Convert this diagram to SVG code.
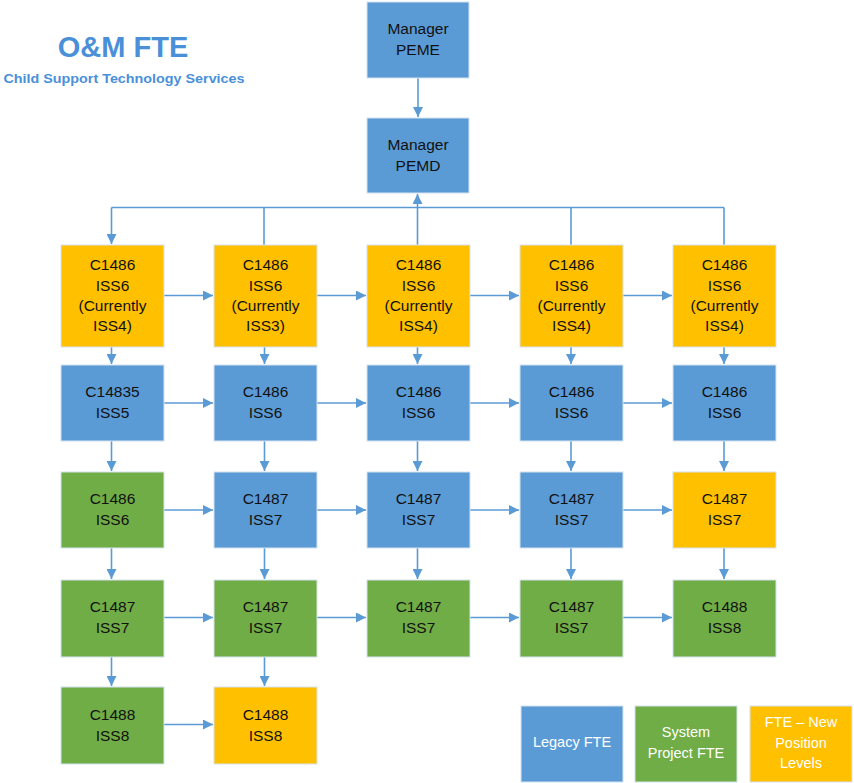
<svg xmlns="http://www.w3.org/2000/svg" width="854" height="783" viewBox="0 0 854 783">
  <style>
    .box { stroke: #d6e2ef; stroke-width: 1; }
    .blue { fill: #5b9bd5; }
    .green { fill: #70ad47; }
    .orange { fill: #ffc000; }
    .t { font-family: "Liberation Sans", Arial, sans-serif; font-size: 15.5px; fill: #111; text-anchor: middle; }
    .lg { font-family: "Liberation Sans", Arial, sans-serif; font-size: 14.5px; fill: #ffffff; text-anchor: middle; }
    .wire { stroke: #5b9bd5; stroke-width: 1.6; fill: none; }
    .wire.a { marker-end: url(#arrow); }
    .title { font-family: "Liberation Sans", Arial, sans-serif; font-weight: bold; fill: #4a90d9; text-anchor: middle; }
  </style>
  <defs>
    <marker id="arrow" viewBox="0 0 10 10" refX="10" refY="5" markerWidth="10" markerHeight="10" markerUnits="userSpaceOnUse" orient="auto">
      <path d="M0,0 L10,5 L0,10 z" fill="#5b9bd5"/>
    </marker>
  </defs>

  <rect width="854" height="783" fill="#ffffff"/>

  <!-- heading -->
  <g id="heading">
    <text class="title" x="123" y="57" font-size="29">O&amp;M FTE</text>
    <text class="title" x="124" y="83" font-size="13.5" textLength="241" lengthAdjust="spacingAndGlyphs">Child Support Technology Services</text>
  </g>

  <!-- connectors -->
  <g id="connectors">
    <!-- managers -->
    <line class="wire a" x1="418" y1="78" x2="418" y2="117"/>
    <line class="wire a" x1="417.5" y1="245" x2="417.5" y2="194"/>
    <!-- distribution bus -->
    <polyline class="wire" points="111.5,207.5 724,207.5"/>
    <line class="wire a" x1="111.5" y1="207.5" x2="111.5" y2="244"/>
    <line class="wire" x1="264" y1="207.5" x2="264" y2="245"/>
    <line class="wire" x1="571" y1="207.5" x2="571" y2="245"/>
    <line class="wire" x1="724" y1="207.5" x2="724" y2="245"/>

    <!-- row 1 horizontal -->
    <line class="wire a" x1="164" y1="295.5" x2="213" y2="295.5"/>
    <line class="wire a" x1="317" y1="295.5" x2="366" y2="295.5"/>
    <line class="wire a" x1="470" y1="295.5" x2="519" y2="295.5"/>
    <line class="wire a" x1="623" y1="295.5" x2="672" y2="295.5"/>
    <!-- row 2 horizontal -->
    <line class="wire a" x1="164" y1="403" x2="213" y2="403"/>
    <line class="wire a" x1="317" y1="403" x2="366" y2="403"/>
    <line class="wire a" x1="470" y1="403" x2="519" y2="403"/>
    <line class="wire a" x1="623" y1="403" x2="672" y2="403"/>
    <!-- row 3 horizontal -->
    <line class="wire a" x1="164" y1="510" x2="213" y2="510"/>
    <line class="wire a" x1="317" y1="510" x2="366" y2="510"/>
    <line class="wire a" x1="470" y1="510" x2="519" y2="510"/>
    <line class="wire a" x1="623" y1="510" x2="672" y2="510"/>
    <!-- row 4 horizontal -->
    <line class="wire a" x1="164" y1="617.5" x2="213" y2="617.5"/>
    <line class="wire a" x1="317" y1="617.5" x2="366" y2="617.5"/>
    <line class="wire a" x1="470" y1="617.5" x2="519" y2="617.5"/>
    <line class="wire a" x1="623" y1="617.5" x2="672" y2="617.5"/>
    <!-- row 5 horizontal -->
    <line class="wire a" x1="164" y1="724.5" x2="213" y2="724.5"/>

    <!-- verticals row1 -> row2 -->
    <line class="wire a" x1="111.5" y1="347" x2="111.5" y2="364"/>
    <line class="wire a" x1="264.5" y1="347" x2="264.5" y2="364"/>
    <line class="wire a" x1="417.5" y1="347" x2="417.5" y2="364"/>
    <line class="wire a" x1="571" y1="347" x2="571" y2="364"/>
    <line class="wire a" x1="724" y1="347" x2="724" y2="364"/>
    <!-- row2 -> row3 -->
    <line class="wire a" x1="111.5" y1="441" x2="111.5" y2="471"/>
    <line class="wire a" x1="264.5" y1="441" x2="264.5" y2="471"/>
    <line class="wire a" x1="417.5" y1="441" x2="417.5" y2="471"/>
    <line class="wire a" x1="571" y1="441" x2="571" y2="471"/>
    <line class="wire a" x1="724" y1="441" x2="724" y2="471"/>
    <!-- row3 -> row4 -->
    <line class="wire a" x1="111.5" y1="548" x2="111.5" y2="579"/>
    <line class="wire a" x1="264.5" y1="548" x2="264.5" y2="579"/>
    <line class="wire a" x1="417.5" y1="548" x2="417.5" y2="579"/>
    <line class="wire a" x1="571" y1="548" x2="571" y2="579"/>
    <line class="wire a" x1="724" y1="548" x2="724" y2="579"/>
    <!-- row4 -> row5 -->
    <line class="wire a" x1="111.5" y1="657" x2="111.5" y2="686"/>
    <line class="wire a" x1="264.5" y1="657" x2="264.5" y2="686"/>
  </g>

  <!-- managers -->
  <g id="mgr-peme">
    <rect class="box blue" x="367" y="2" width="102" height="76"/>
    <text class="t" x="418" y="34">Manager</text>
    <text class="t" x="418" y="55">PEME</text>
  </g>
  <g id="mgr-pemd">
    <rect class="box blue" x="367" y="118" width="102" height="75"/>
    <text class="t" x="418" y="150">Manager</text>
    <text class="t" x="418" y="171">PEMD</text>
  </g>

  <!-- row 1 -->
  <g id="r1c1">
    <rect class="box orange" x="61" y="245" width="103" height="102"/>
    <text class="t" x="112.5" y="270">C1486</text>
    <text class="t" x="112.5" y="290.5">ISS6</text>
    <text class="t" x="112.5" y="311">(Currently</text>
    <text class="t" x="112.5" y="331">ISS4)</text>
  </g>
  <g id="r1c2">
    <rect class="box orange" x="214" y="245" width="103" height="102"/>
    <text class="t" x="265.5" y="270">C1486</text>
    <text class="t" x="265.5" y="290.5">ISS6</text>
    <text class="t" x="265.5" y="311">(Currently</text>
    <text class="t" x="265.5" y="331">ISS3)</text>
  </g>
  <g id="r1c3">
    <rect class="box orange" x="367" y="245" width="103" height="102"/>
    <text class="t" x="418.5" y="270">C1486</text>
    <text class="t" x="418.5" y="290.5">ISS6</text>
    <text class="t" x="418.5" y="311">(Currently</text>
    <text class="t" x="418.5" y="331">ISS4)</text>
  </g>
  <g id="r1c4">
    <rect class="box orange" x="520" y="245" width="103" height="102"/>
    <text class="t" x="571.5" y="270">C1486</text>
    <text class="t" x="571.5" y="290.5">ISS6</text>
    <text class="t" x="571.5" y="311">(Currently</text>
    <text class="t" x="571.5" y="331">ISS4)</text>
  </g>
  <g id="r1c5">
    <rect class="box orange" x="673" y="245" width="103" height="102"/>
    <text class="t" x="724.5" y="270">C1486</text>
    <text class="t" x="724.5" y="290.5">ISS6</text>
    <text class="t" x="724.5" y="311">(Currently</text>
    <text class="t" x="724.5" y="331">ISS4)</text>
  </g>

  <!-- row 2 -->
  <g id="r2c1">
    <rect class="box blue" x="61" y="365" width="103" height="76"/>
    <text class="t" x="112.5" y="397">C14835</text>
    <text class="t" x="112.5" y="418">ISS5</text>
  </g>
  <g id="r2c2">
    <rect class="box blue" x="214" y="365" width="103" height="76"/>
    <text class="t" x="265.5" y="397">C1486</text>
    <text class="t" x="265.5" y="418">ISS6</text>
  </g>
  <g id="r2c3">
    <rect class="box blue" x="367" y="365" width="103" height="76"/>
    <text class="t" x="418.5" y="397">C1486</text>
    <text class="t" x="418.5" y="418">ISS6</text>
  </g>
  <g id="r2c4">
    <rect class="box blue" x="520" y="365" width="103" height="76"/>
    <text class="t" x="571.5" y="397">C1486</text>
    <text class="t" x="571.5" y="418">ISS6</text>
  </g>
  <g id="r2c5">
    <rect class="box blue" x="673" y="365" width="103" height="76"/>
    <text class="t" x="724.5" y="397">C1486</text>
    <text class="t" x="724.5" y="418">ISS6</text>
  </g>

  <!-- row 3 -->
  <g id="r3c1">
    <rect class="box green" x="61" y="472" width="103" height="76"/>
    <text class="t" x="112.5" y="504">C1486</text>
    <text class="t" x="112.5" y="525">ISS6</text>
  </g>
  <g id="r3c2">
    <rect class="box blue" x="214" y="472" width="103" height="76"/>
    <text class="t" x="265.5" y="504">C1487</text>
    <text class="t" x="265.5" y="525">ISS7</text>
  </g>
  <g id="r3c3">
    <rect class="box blue" x="367" y="472" width="103" height="76"/>
    <text class="t" x="418.5" y="504">C1487</text>
    <text class="t" x="418.5" y="525">ISS7</text>
  </g>
  <g id="r3c4">
    <rect class="box blue" x="520" y="472" width="103" height="76"/>
    <text class="t" x="571.5" y="504">C1487</text>
    <text class="t" x="571.5" y="525">ISS7</text>
  </g>
  <g id="r3c5">
    <rect class="box orange" x="673" y="472" width="103" height="76"/>
    <text class="t" x="724.5" y="504">C1487</text>
    <text class="t" x="724.5" y="525">ISS7</text>
  </g>

  <!-- row 4 -->
  <g id="r4c1">
    <rect class="box green" x="61" y="580" width="103" height="77"/>
    <text class="t" x="112.5" y="612">C1487</text>
    <text class="t" x="112.5" y="633">ISS7</text>
  </g>
  <g id="r4c2">
    <rect class="box green" x="214" y="580" width="103" height="77"/>
    <text class="t" x="265.5" y="612">C1487</text>
    <text class="t" x="265.5" y="633">ISS7</text>
  </g>
  <g id="r4c3">
    <rect class="box green" x="367" y="580" width="103" height="77"/>
    <text class="t" x="418.5" y="612">C1487</text>
    <text class="t" x="418.5" y="633">ISS7</text>
  </g>
  <g id="r4c4">
    <rect class="box green" x="520" y="580" width="103" height="77"/>
    <text class="t" x="571.5" y="612">C1487</text>
    <text class="t" x="571.5" y="633">ISS7</text>
  </g>
  <g id="r4c5">
    <rect class="box green" x="673" y="580" width="103" height="77"/>
    <text class="t" x="724.5" y="612">C1488</text>
    <text class="t" x="724.5" y="633">ISS8</text>
  </g>

  <!-- row 5 -->
  <g id="r5c1">
    <rect class="box green" x="61" y="687" width="103" height="77"/>
    <text class="t" x="112.5" y="720">C1488</text>
    <text class="t" x="112.5" y="741">ISS8</text>
  </g>
  <g id="r5c2">
    <rect class="box orange" x="214" y="687" width="103" height="77"/>
    <text class="t" x="265.5" y="720">C1488</text>
    <text class="t" x="265.5" y="741">ISS8</text>
  </g>

  <!-- legend -->
  <g id="legend-legacy">
    <rect class="box blue" x="521" y="706" width="102" height="76"/>
    <text class="lg" x="572" y="747">Legacy FTE</text>
  </g>
  <g id="legend-project">
    <rect class="box green" x="635" y="706" width="102" height="76"/>
    <text class="lg" x="686" y="737">System</text>
    <text class="lg" x="686" y="758">Project FTE</text>
  </g>
  <g id="legend-new">
    <rect class="box orange" x="750" y="706" width="102" height="76"/>
    <text class="lg" x="801" y="727">FTE – New</text>
    <text class="lg" x="801" y="748">Position</text>
    <text class="lg" x="801" y="768">Levels</text>
  </g>
</svg>
